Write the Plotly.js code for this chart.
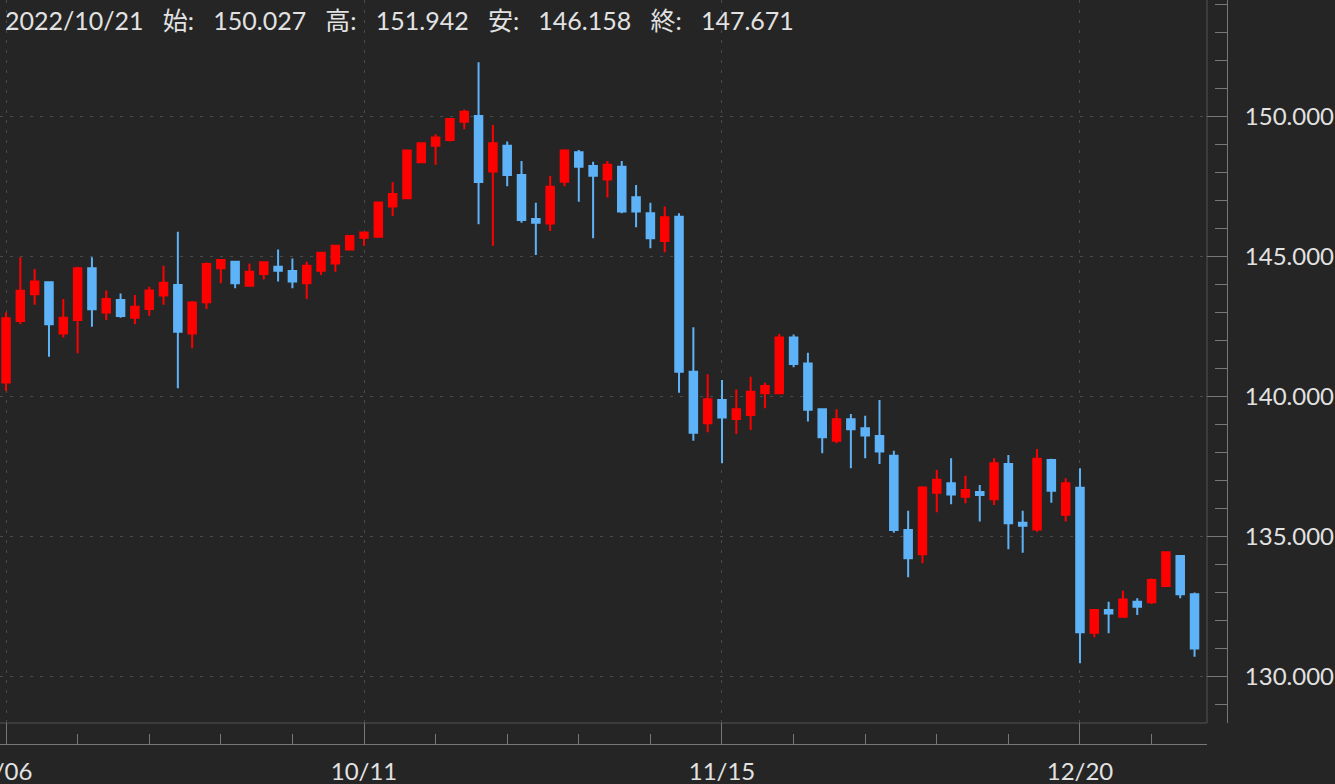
<!DOCTYPE html>
<html>
<head>
<meta charset="utf-8">
<script src="https://cdn.plot.ly/plotly-3.0.1.min.js"></script>
<style>
html, body { margin: 0; padding: 0; background: #252525; }
#chart { width: 1335px; height: 784px; }
</style>
</head>
<body>
<div id="chart"></div>
<script>
// ---- Data (USD/JPY daily) ----
const dates = [
  '2022-09-06','2022-09-07','2022-09-08','2022-09-09',
  '2022-09-12','2022-09-13','2022-09-14','2022-09-15','2022-09-16',
  '2022-09-19','2022-09-20','2022-09-21','2022-09-22','2022-09-23',
  '2022-09-26','2022-09-27','2022-09-28','2022-09-29','2022-09-30',
  '2022-10-03','2022-10-04','2022-10-05','2022-10-06','2022-10-07',
  '2022-10-10','2022-10-11','2022-10-12','2022-10-13','2022-10-14',
  '2022-10-17','2022-10-18','2022-10-19','2022-10-20','2022-10-21',
  '2022-10-24','2022-10-25','2022-10-26','2022-10-27','2022-10-28',
  '2022-10-31','2022-11-01','2022-11-02','2022-11-03','2022-11-04',
  '2022-11-07','2022-11-08','2022-11-09','2022-11-10','2022-11-11',
  '2022-11-14','2022-11-15','2022-11-16','2022-11-17','2022-11-18',
  '2022-11-21','2022-11-22','2022-11-23','2022-11-24','2022-11-25',
  '2022-11-28','2022-11-29','2022-11-30','2022-12-01','2022-12-02',
  '2022-12-05','2022-12-06','2022-12-07','2022-12-08','2022-12-09',
  '2022-12-12','2022-12-13','2022-12-14','2022-12-15','2022-12-16',
  '2022-12-19','2022-12-20','2022-12-21','2022-12-22','2022-12-23',
  '2022-12-26','2022-12-27','2022-12-28','2022-12-29','2022-12-30'
];
const open = [
  140.51,142.70,143.66,144.09,
  142.26,142.74,144.59,143.01,143.45,
  142.82,143.13,143.61,143.99,142.26,
  143.37,144.59,144.82,143.96,144.38,
  144.64,144.49,144.05,144.50,144.76,
  145.26,145.68,145.71,146.79,147.09,
  148.37,148.96,149.17,149.82,150.027,
  148.04,148.96,147.92,146.35,146.19,
  147.68,148.73,148.24,147.76,148.21,
  147.12,146.55,145.56,146.43,140.89,
  139.05,139.88,139.20,139.35,140.12,
  140.12,142.11,141.19,139.55,138.43,
  139.19,138.87,138.60,137.89,135.24,
  134.37,136.57,136.91,136.43,136.60,
  136.34,137.60,135.50,135.26,137.74,
  135.78,136.75,131.57,132.38,132.14,
  132.68,132.66,133.24,134.31,132.94
];
const high = [
  143.01,144.98,144.56,144.10,
  143.49,144.64,144.98,143.79,143.69,
  143.63,143.93,144.68,145.89,143.42,
  144.79,144.91,144.85,144.76,144.83,
  145.26,144.94,144.82,145.16,145.41,
  145.77,145.89,146.97,147.66,148.82,
  149.08,149.37,149.95,150.26,151.942,
  149.70,149.11,148.42,146.93,147.88,
  148.84,148.81,148.39,148.42,148.42,
  147.56,146.93,146.79,146.55,142.48,
  140.80,140.60,140.26,140.71,140.50,
  142.24,142.22,141.57,139.58,139.55,
  139.38,139.32,139.88,138.07,135.93,
  136.80,137.38,137.80,137.18,136.85,
  137.80,137.92,135.93,138.13,137.78,
  137.09,137.44,132.41,132.68,133.07,
  132.80,133.51,134.46,134.34,133.01
];
const low = [
  140.20,142.59,143.28,141.43,
  142.11,141.55,142.50,142.74,142.82,
  142.59,142.89,143.28,140.30,141.73,
  143.13,144.05,143.87,143.93,144.19,
  144.11,143.87,143.49,144.35,144.46,
  145.24,145.39,145.70,146.45,147.07,
  148.35,148.28,149.11,149.55,146.158,
  145.39,147.52,146.21,145.06,145.92,
  147.52,146.96,145.66,147.11,146.55,
  146.05,145.30,145.16,140.14,138.43,
  138.73,137.62,138.67,138.81,139.59,
  140.10,141.05,139.11,137.98,138.34,
  137.44,137.80,137.60,135.14,133.55,
  134.05,135.87,136.16,136.19,135.54,
  136.13,134.55,134.43,135.18,136.21,
  135.54,130.48,131.41,131.55,132.11,
  132.20,132.60,133.22,132.80,130.71
];
const close = [
  142.80,143.78,144.11,142.59,
  142.82,144.59,143.12,143.49,142.88,
  143.21,143.79,144.07,142.32,143.36,
  144.74,144.88,144.05,144.46,144.80,
  144.50,144.11,144.68,145.14,145.39,
  145.74,145.86,146.94,147.24,148.79,
  149.05,149.26,149.92,150.18,147.671,
  149.05,147.92,146.31,146.21,147.50,
  148.79,148.21,147.89,148.28,146.61,
  146.61,145.66,146.41,140.89,138.71,
  139.91,139.26,139.55,140.18,140.38,
  142.11,141.17,139.53,138.55,139.19,
  138.84,138.61,138.04,135.24,134.23,
  136.76,137.03,136.51,136.67,136.49,
  137.62,135.48,135.39,137.78,136.64,
  136.91,131.59,132.38,132.26,132.76,
  132.50,133.45,134.44,132.94,131.01
];
const majorDates  = ['2022-09-06','2022-10-11','2022-11-15','2022-12-20'];
const majorLabels = ['9/06','10/11','11/15','12/20'];
const headerDate  = '2022-10-21';
const headerLabels = ['始', '高', '安', '終'];

// ---- Build chart ----
const UP = '#ff0000';
const DOWN = '#5eb3f8';
const noon = d => d + ' 12:00';

const trace = {
  type: 'candlestick',
  x: dates.map(noon),
  open: open, high: high, low: low, close: close,
  increasing: { line: { color: UP, width: 2 }, fillcolor: UP },
  decreasing: { line: { color: DOWN, width: 2 }, fillcolor: DOWN },
  whiskerwidth: 0,
  hoverinfo: 'skip',
  showlegend: false
};

const hi = dates.indexOf(headerDate);
const sp = '\u00a0\u00a0\u00a0';
const headerText = headerDate.replace(/-/g, '/') + sp +
  headerLabels[0] + ':' + sp + open[hi].toFixed(3) + sp +
  headerLabels[1] + ':' + sp + high[hi].toFixed(3) + sp +
  headerLabels[2] + ':' + sp + low[hi].toFixed(3) + sp +
  headerLabels[3] + ':' + sp + close[hi].toFixed(3);

const AXC = '#777777';
const GRID = '#4a4a4a';
const TXT = '#e2e2e2';
const FONT = 'Lato, "Noto Sans CJK JP", sans-serif';

const layout = {
  width: 1335, height: 784,
  paper_bgcolor: '#252525', plot_bgcolor: '#252525',
  margin: { l: 0, r: 108, t: 0, b: 40 },
  showlegend: false,
  boxgap: 0.25,
  font: { family: FONT, color: TXT },
  xaxis: {
    type: 'date', anchor: 'free', position: 0,
    domain: [0, 1207 / 1227],
    range: ['2022-09-06 01:55', '2023-01-02 08:53'],
    rangeslider: { visible: false },
    rangebreaks: [{ bounds: ['sat', 'mon'] }],
    tickmode: 'array', tickvals: majorDates.map(noon), ticktext: majorLabels,
    ticks: 'inside', ticklen: 21, tickwidth: 1, tickcolor: AXC,
    minor: { ticks: 'inside', ticklen: 10, tickwidth: 1, tickcolor: AXC,
             tick0: noon(majorDates[0]), dtick: 7 * 86400000, showgrid: false },
    showline: true, linecolor: AXC, linewidth: 1,
    showgrid: true, gridcolor: GRID, gridwidth: 1, griddash: '3px,7px',
    tickfont: { family: FONT, size: 24, color: TXT },
    ticklabelstandoff: 6, ticklabeloverflow: 'allow',
    zeroline: false, fixedrange: true
  },
  yaxis: {
    side: 'right', anchor: 'free', position: 1,
    domain: [21 / 744, 1],
    range: [128.346, 154.168],
    tickmode: 'linear', tick0: 130, dtick: 5, tickformat: '.3f',
    ticks: 'inside', ticklen: 20, tickwidth: 1, tickcolor: AXC,
    minor: { ticks: 'inside', ticklen: 12, tickwidth: 1, tickcolor: AXC,
             tick0: 130, dtick: 1, showgrid: false },
    showline: true, linecolor: AXC, linewidth: 1,
    showgrid: true, gridcolor: GRID, gridwidth: 1, griddash: '3px,7px',
    tickfont: { family: FONT, size: 24, color: TXT },
    ticklabelstandoff: 12, ticklabeloverflow: 'allow',
    zeroline: false, fixedrange: true
  },
  shapes: [
    { type: 'line', xref: 'x domain', yref: 'y domain', x0: 0, x1: 1, y0: 0, y1: 0,
      line: { color: '#555555', width: 1 }, layer: 'below' },
    { type: 'line', xref: 'x domain', yref: 'y domain', x0: 1, x1: 1, y0: 0, y1: 1,
      line: { color: '#555555', width: 1 }, layer: 'below' }
  ],
  annotations: [{
    xref: 'paper', yref: 'paper', x: 0, y: 1,
    xanchor: 'left', yanchor: 'middle', xshift: 3, yshift: -20,
    text: headerText, showarrow: false,
    font: { family: FONT, size: 25, color: TXT }
  }]
};

Plotly.newPlot('chart', [trace], layout, { staticPlot: true, displayModeBar: false });
</script>
</body>
</html>
